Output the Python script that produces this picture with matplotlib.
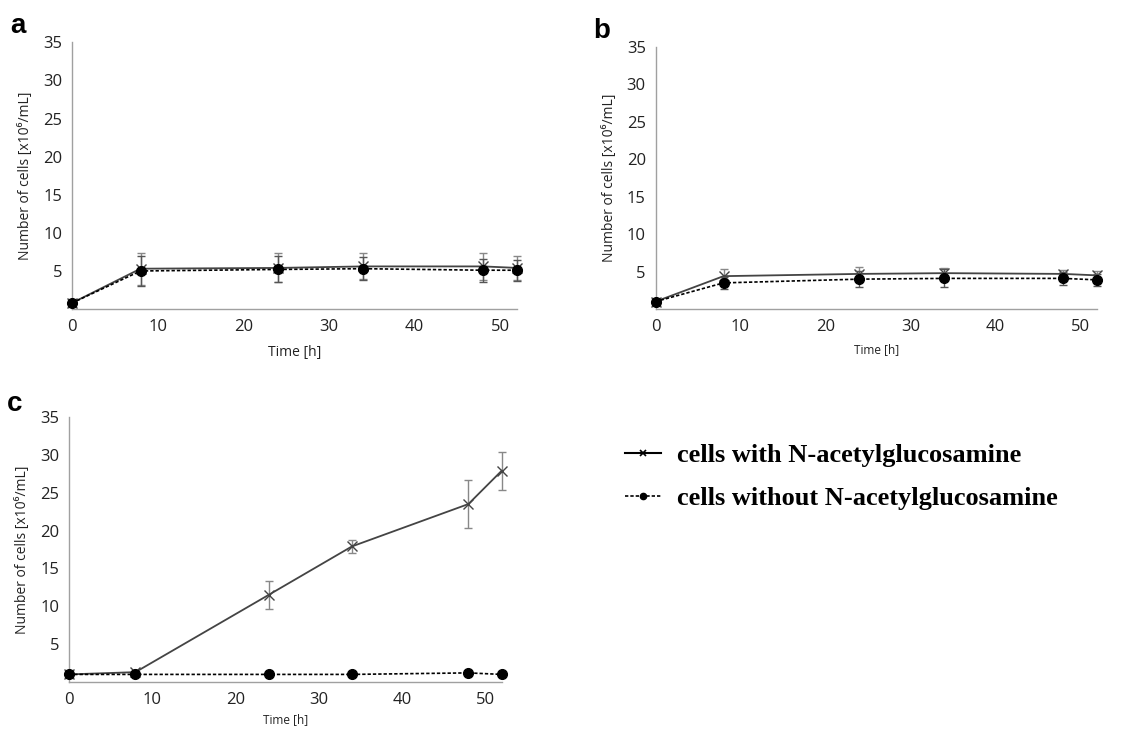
import numpy as np
from matplotlib import pyplot as plt
from matplotlib.lines import Line2D

plt.rcParams['font.family'] = ['Open Sans', 'DejaVu Sans']

# Sampling times [h]
time_h = [0, 8, 24, 34, 48, 52]

# Panel a
a_with = [0.8, 5.3, 5.4, 5.6, 5.6, 5.4]
a_with_err = [0.2, 2.1, 1.9, 1.7, 1.8, 1.6]
a_without = [0.8, 5.0, 5.2, 5.3, 5.1, 5.1]
a_without_err = [0.2, 2.0, 1.7, 1.5, 1.5, 1.4]

# Panel b
b_with = [1.0, 4.4, 4.7, 4.8, 4.7, 4.5]
b_with_err = [0.2, 1.0, 0.9, 0.7, 0.5, 0.6]
b_without = [1.0, 3.5, 4.0, 4.1, 4.1, 3.9]
b_without_err = [0.2, 0.8, 1.1, 1.2, 0.9, 0.8]

# Panel c
c_with = [1.0, 1.3, 11.5, 17.9, 23.5, 27.9]
c_with_err = [0.2, 0.2, 1.8, 0.8, 3.2, 2.5]
c_without = [1.0, 1.0, 1.0, 1.0, 1.2, 1.0]
c_without_err = [0.1, 0.1, 0.1, 0.1, 0.1, 0.1]

yticks = [5, 10, 15, 20, 25, 30, 35]
xticks = [0, 10, 20, 30, 40, 50]

fig = plt.figure(figsize=(11.48, 7.29), dpi=100)

def panel(rect, w, we, wo, woe, label, xlab_size, xlab_pad, lab_dy):
    ax = fig.add_axes(rect)
    ax.errorbar(time_h, w, yerr=we, color='#444444', lw=1.3, marker='x', ms=7.5,
                mew=1.0, ecolor='#888888', elinewidth=1.0, capsize=3, zorder=3)
    ax.errorbar(time_h, wo, yerr=woe, color='black', lw=1.2, ls=(0, (2, 1.2)),
                marker='o', ms=7, ecolor='#555555', elinewidth=1.0, capsize=3, zorder=4)
    ax.set_xlim(0, 52)
    ax.set_ylim(0, 35)
    ax.set_xticks(xticks)
    ax.set_yticks(yticks)
    for s in ['top', 'right']:
        ax.spines[s].set_visible(False)
    for s in ['left', 'bottom']:
        ax.spines[s].set_color('#a0a0a0')
        ax.spines[s].set_linewidth(1.0)
    ax.tick_params(length=0, labelsize=12, colors='#222222', pad=7)
    ax.set_xlabel('Time [h]', fontsize=xlab_size, color='#222222', labelpad=xlab_pad)
    ax.set_ylabel('Number of cells [x10⁶/mL]', fontsize=10, color='#222222', labelpad=7)
    for art in ax.get_children():
        try:
            art.set_clip_on(False)
        except Exception:
            pass
    fig.text(rect[0] - 0.054, rect[1] + rect[3] + lab_dy, label, fontsize=20,
             fontweight='bold', family='Liberation Sans', va='bottom')
    return ax

panel([0.0627, 0.576, 0.388, 0.366], a_with, a_with_err, a_without, a_without_err, 'a', 10, 7, 0.004)
panel([0.571, 0.576, 0.385, 0.3595], b_with, b_with_err, b_without, b_without_err, 'b', 8.5, 6, 0.004)
panel([0.060, 0.0645, 0.377, 0.3635], c_with, c_with_err, c_without, c_without_err, 'c', 8.5, 4, 0.0)

handles = [
    Line2D([], [], color='black', lw=1.5, marker='x', ms=5, mew=1.2),
    Line2D([], [], color='black', lw=1.2, ls=(0, (2, 1.2)), marker='o', ms=4.5),
]
labels = ['cells with N-acetylglucosamine', 'cells without N-acetylglucosamine']
fig.legend(handles, labels, loc='upper left', bbox_to_anchor=(0.524, 0.424),
           frameon=False, handlelength=1.35, handletextpad=0.6, labelspacing=0.75,
           prop={'family': 'Liberation Serif', 'weight': 'bold', 'size': 19})

fig.savefig('out.png', dpi=100)
